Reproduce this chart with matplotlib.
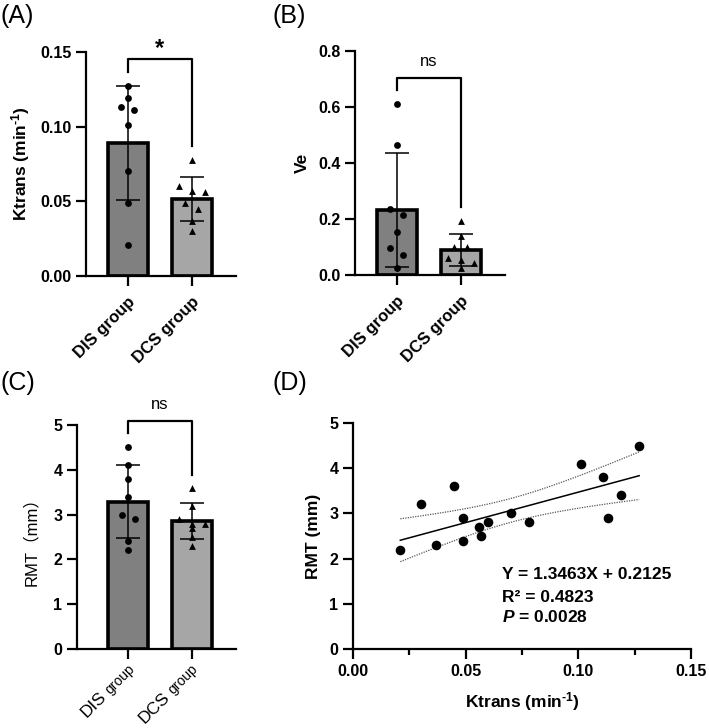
import numpy as np
import matplotlib
matplotlib.use("Agg")
import matplotlib.pyplot as plt

plt.rcParams['font.family'] = ['Liberation Sans', 'Noto Sans CJK SC', 'DejaVu Sans']
plt.rcParams['mathtext.fontset'] = 'custom'
plt.rcParams['mathtext.rm'] = 'Liberation Sans:bold'
plt.rcParams['mathtext.bf'] = 'Liberation Sans:bold'
plt.rcParams['mathtext.it'] = 'Liberation Sans:italic:bold'

groups = ["DIS group", "DCS group"]

# per-patient values (same order in every list: DIS first 8, DCS last 8)
ktrans_dis = [0.127, 0.119, 0.111, 0.113, 0.101, 0.070, 0.049, 0.021]
ktrans_dcs = [0.078, 0.057, 0.056, 0.060, 0.049, 0.045, 0.037, 0.030]
ve_dis = [0.609, 0.466, 0.234, 0.214, 0.155, 0.095, 0.071, 0.026]
ve_dcs = [0.194, 0.139, 0.101, 0.101, 0.059, 0.053, 0.042, 0.024]
rmt_dis = [4.5, 3.4, 3.8, 2.9, 4.1, 3.0, 2.4, 2.2]
rmt_dcs = [2.8, 2.5, 2.7, 2.8, 2.9, 3.6, 2.3, 3.2]

eq_lines = ["Y = 1.3463X + 0.2125", "R² = 0.4823", r"$\mathit{P}$ = 0.0028"]

W, H = 709, 728
fig = plt.figure(figsize=(W / 100, H / 100), dpi=100)
renderer = fig.canvas.get_renderer()


def px_axes(left, top, right, bottom):
    return fig.add_axes([left / W, 1 - bottom / H, (right - left) / W, (bottom - top) / H])


def swarm(vals, px_per_val, gap, row_tol):
    # group points of similar height into rows, spread each row symmetrically
    ys = np.asarray(vals) * px_per_val
    order = list(np.argsort(-ys))
    offs = np.zeros(len(ys))
    while order:
        row = [order.pop(0)]
        while order and ys[row[0]] - ys[order[0]] < row_tol:
            row.append(order.pop(0))
        for j, i in enumerate(row):
            offs[i] = (j - (len(row) - 1) / 2) * gap
    return offs


def bar_panel(ax, dis, dcs, ymax, yticks, ylabels, ylabel, lab_kw, xleft):
    ax.set_xlim(xleft, 1.69)
    ax.set_ylim(0, ymax)
    h_px = ax.get_position().height * H
    unit_px = 64.0
    for i, (vals, col, mk) in enumerate([(dis, '#808080', 'o'), (dcs, '#a6a6a6', '^')]):
        m = np.mean(vals)
        s = np.std(vals, ddof=1)
        ax.bar(i, m, width=0.625, color=col, edgecolor='black', linewidth=2.6, zorder=1)
        offs = swarm(vals, h_px / ymax, 13.0, 7.0) / unit_px
        ax.scatter(i + offs, vals, marker=mk, s=24, color='black', zorder=3, linewidths=0)
        ax.errorbar(i, m, yerr=s, color='black', capsize=8.5, elinewidth=1.1,
                    capthick=1.1, zorder=4)
    for sp in ['top', 'right']:
        ax.spines[sp].set_visible(False)
    for sp in ['left', 'bottom']:
        ax.spines[sp].set_linewidth(1.6)
    ax.set_yticks(yticks)
    ax.set_yticklabels(ylabels, fontsize=11.5, fontweight='bold')
    ax.set_xticks([0, 1])
    ax.tick_params(length=7, width=1.6)
    ax.tick_params(axis='x', pad=6)
    ax.set_ylabel(ylabel, **lab_kw)


def bold_group_labels(ax):
    ax.set_xticklabels(groups, rotation=45, ha='right', rotation_mode='anchor',
                       fontsize=12, fontweight='bold')


def mixed_group_labels(ax, big=12.5, small=10):
    # first word larger than "group", as in panel C
    ax.set_xticklabels([])
    c = np.cos(np.radians(45))
    for i, g in enumerate(groups):
        first, rest = g.split(" ", 1)
        tmp = fig.text(0, 0, " " + rest, fontsize=small)
        w = tmp.get_window_extent(renderer).width * 72 / 100
        tmp.remove()
        dx, dy = 5.0, -15.0
        kw = dict(xycoords=('data', 'axes fraction'), textcoords='offset points',
                  rotation=45, rotation_mode='anchor', ha='right', va='baseline',
                  annotation_clip=False)
        ax.annotate(rest, (i, 0), xytext=(dx, dy), fontsize=small, **kw)
        ax.annotate(first, (i, 0), xytext=(dx - w * c, dy - w * c), fontsize=big, **kw)


def bracket(ax, yl, yt, yr, label, ty, size, weight):
    ax.plot([0, 0, 1, 1], [yl, yt, yt, yr], color='black', lw=1.6, clip_on=False)
    ax.text(0.5, ty, label, ha='center', va='center', fontsize=size, fontweight=weight)


ktrans_lab = r"Ktrans (min$^{\text{-}1}$)"

# (A)
axA = px_axes(86, 52, 236, 276)
bar_panel(axA, ktrans_dis, ktrans_dcs, 0.15, [0, 0.05, 0.10, 0.15],
          ["0.00", "0.05", "0.10", "0.15"], ktrans_lab,
          dict(fontsize=12.5, fontweight='bold', labelpad=6), -0.656)
bold_group_labels(axA)
bracket(axA, 0.1366, 0.1453, 0.087, "*", 0.1525, 17, 'bold')

# (B)
axB = px_axes(355, 51, 505, 275)
bar_panel(axB, ve_dis, ve_dcs, 0.8, [0, 0.2, 0.4, 0.6, 0.8],
          ["0.0", "0.2", "0.4", "0.6", "0.8"], "Ve",
          dict(fontsize=12.5, fontweight='bold', labelpad=6), -0.656)
bold_group_labels(axB)
bracket(axB, 0.661, 0.7036, 0.243, "ns", 0.763, 12, 'normal')

# (C)
axC = px_axes(77, 425, 236, 649)
bar_panel(axC, rmt_dis, rmt_dcs, 5, [0, 1, 2, 3, 4, 5],
          ["0", "1", "2", "3", "4", "5"], "RMT（mm）",
          dict(fontsize=12, labelpad=10), -0.8)
mixed_group_labels(axC)
bracket(axC, 4.83, 5.10, 3.88, "ns", 5.45, 12, 'normal')

# (D)
axD = px_axes(353, 423, 691, 649)
kx = np.array(ktrans_dis + ktrans_dcs)
ry = np.array(rmt_dis + rmt_dcs)
axD.scatter(kx, ry, s=48, color='black', zorder=3, linewidths=0)
slope, icpt = np.polyfit(kx, ry, 1)
xs = np.linspace(kx.min(), kx.max(), 100)
fit = slope * xs + icpt
n = len(kx)
resid = ry - (slope * kx + icpt)
se = np.sqrt(np.sum(resid ** 2) / (n - 2))
band = 2.145 * se * np.sqrt(1 / n + (xs - kx.mean()) ** 2 / np.sum((kx - kx.mean()) ** 2))
axD.plot(xs, fit, color='black', lw=1.1, zorder=2)
axD.plot(xs, fit + band, color='#555555', lw=0.9, ls=(0, (1, 1)), zorder=2)
axD.plot(xs, fit - band, color='#555555', lw=0.9, ls=(0, (1, 1)), zorder=2)
axD.set_xlim(0, 0.15)
axD.set_ylim(0, 5)
for sp in ['top', 'right']:
    axD.spines[sp].set_visible(False)
for sp in ['left', 'bottom']:
    axD.spines[sp].set_linewidth(1.6)
axD.set_xticks([0, 0.05, 0.10, 0.15])
axD.set_xticklabels(["0.00", "0.05", "0.10", "0.15"], fontsize=11.5, fontweight='bold')
axD.set_xticks([0.025, 0.075, 0.125], minor=True)
axD.set_yticks([0, 1, 2, 3, 4, 5])
axD.set_yticklabels(["0", "1", "2", "3", "4", "5"], fontsize=11.5, fontweight='bold')
axD.tick_params(which='major', length=7, width=1.6)
axD.tick_params(which='minor', length=4.5, width=1.6)
axD.set_xlabel(ktrans_lab, fontsize=12.5, fontweight='bold', labelpad=8)
axD.set_ylabel("RMT (mm)", fontsize=12.5, fontweight='bold', labelpad=6)
for line, yv in zip(eq_lines, [1.64, 1.15, 0.71]):
    axD.text(0.0661, yv, line, ha='left', va='center', fontsize=12.5, fontweight='bold')

# panel letters
for lab, x, y in [("(A)", 0, 4), ("(B)", 272, 4), ("(C)", 0, 371), ("(D)", 272, 371)]:
    fig.text(x / W, 1 - y / H, lab, ha='left', va='top', fontsize=18)

fig.savefig("out.png", dpi=100)
